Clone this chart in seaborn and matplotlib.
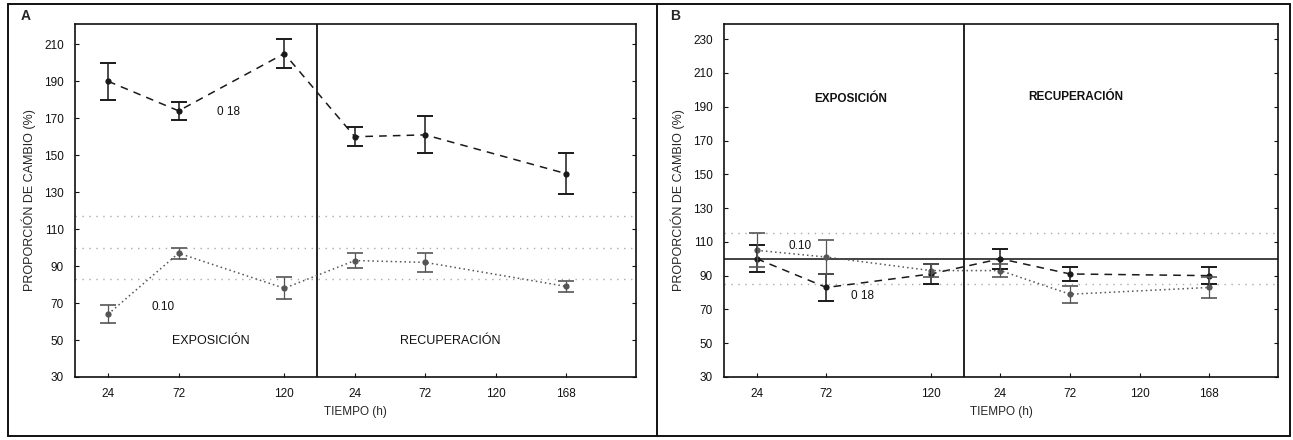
import numpy as np
import pandas as pd
import matplotlib
matplotlib.use("Agg")
import matplotlib.pyplot as plt
import seaborn as sns
from matplotlib.lines import Line2D

# ---------------- data ----------------
hour_labels = ["24", "72", "120", "24", "72", "120", "168"]
tick_pos = [0.5, 1.5, 3.0, 4.0, 5.0, 6.0, 7.0]
# measured points (exposure 24,72,120 ; recovery 24,72,168)
point_pos = [0.5, 1.5, 3.0, 4.0, 5.0, 7.0]

A_018 = [190, 174, 205, 160, 161, 140]
A_018_err = [10, 5, 8, 5, 10, 11]
A_010 = [64, 97, 78, 93, 92, 79]
A_010_err = [5, 3, 6, 4, 5, 3]

B_010 = [105, 101, 93, 93, 79, 83]
B_010_err = [10, 10, 4, 4, 5, 6]
B_018 = [100, 83, 91, 100, 91, 90]
B_018_err = [8, 8, 6, 6, 4, 5]

A_refs = [100, 117, 83]
B_refs = [100, 115, 85]

# ---------------- style ----------------
sns.set_theme(style="white")
plt.rcParams["font.family"] = ["Liberation Sans", "DejaVu Sans"]

fig = plt.figure(figsize=(12.93, 4.4), dpi=100)
axA = fig.add_axes([0.058, 0.1432, 0.4339, 0.8023])
axB = fig.add_axes([0.560, 0.1432, 0.4285, 0.8023])

col18 = "#1a1a1a"
col10 = "#555555"


def make_df(v18, v10):
    return pd.DataFrame({
        "pos": point_pos * 2,
        "val": list(v18) + list(v10),
        "serie": ["0.18"] * len(v18) + ["0.10"] * len(v10),
    })


def draw(ax, v18, e18, v10, e10, refs, ylim, yticks, solid_ref):
    # reference band lines
    for i, r in enumerate(refs):
        if i == 0 and solid_ref:
            ax.axhline(r, color="#333333", lw=1.3, zorder=1)
        else:
            ax.axhline(r, color="#aaaaaa", lw=1.0, ls=(0, (1, 4)), zorder=1)
    df = make_df(v18, v10)
    sns.lineplot(data=df, x="pos", y="val", hue="serie", style="serie",
                 palette={"0.18": col18, "0.10": col10},
                 dashes={"0.18": (5, 4), "0.10": (1, 2)},
                 markers={"0.18": "o", "0.10": "o"}, markersize=4.5,
                 markeredgewidth=0, linewidth=1.1, sort=False,
                 legend=False, ax=ax, zorder=3)
    ax.errorbar(point_pos, v18, yerr=e18, fmt="none", ecolor=col18,
                elinewidth=1.1, capsize=6, capthick=1.4, zorder=4)
    ax.errorbar(point_pos, v10, yerr=e10, fmt="none", ecolor=col10,
                elinewidth=0.9, capsize=6, capthick=1.2, zorder=4)
    ax.axvline(3.47, color="#111111", lw=1.3, zorder=2)
    ax.set_xlim(0.03, 7.99)
    ax.set_ylim(*ylim)
    ax.set_yticks(yticks)
    ax.set_xticks(tick_pos)
    ax.set_xticklabels(hour_labels)
    ax.tick_params(axis="both", labelsize=8.5, colors="#111111",
                   direction="in", length=3, width=0.8,
                   right=True, left=True, bottom=True)
    ax.tick_params(axis="x", pad=8)
    ax.tick_params(axis="y", pad=8)
    for s in ax.spines.values():
        s.set_color("#111111")
        s.set_linewidth(1.2)
    ax.set_xlabel("TIEMPO (h)", fontsize=8.5, labelpad=4)
    ax.set_ylabel("PROPORCIÓN DE CAMBIO (%)", fontsize=9, labelpad=6)


draw(axA, A_018, A_018_err, A_010, A_010_err, A_refs, (30, 221),
     list(range(30, 211, 20)), False)
draw(axB, B_018, B_018_err, B_010, B_010_err, B_refs, (30, 239),
     list(range(30, 231, 20)), True)

# annotations panel A
axA.text(2.05, 172, "0 18", fontsize=8.5, color="#111111")
axA.text(1.12, 66, "0.10", fontsize=8.5, color="#111111")
axA.text(1.95, 48, "EXPOSICIÓN", fontsize=9, ha="center", color="#111111")
axA.text(5.35, 48, "RECUPERACIÓN", fontsize=9, ha="center", color="#111111")

# annotations panel B
axB.text(0.95, 106, "0.10", fontsize=8.5, color="#111111")
axB.text(1.85, 76, "0 18", fontsize=8.5, color="#111111")
axB.text(1.85, 193, "EXPOSICIÓN", fontsize=8.5, ha="center",
         fontweight="bold", color="#111111")
axB.text(5.08, 194, "RECUPERACIÓN", fontsize=8.5, ha="center",
         fontweight="bold", color="#111111")

# panel letters
fig.text(21 / 1293, 1 - 20 / 440, "A", fontsize=10, fontweight="bold")
fig.text(670 / 1293, 1 - 20 / 440, "B", fontsize=10, fontweight="bold")

# outer frame and panel divider
fx0, fx1 = 8 / 1293, 1290 / 1293
fy0, fy1 = 1 - 436 / 440, 1 - 4 / 440
for xs, ys in [([fx0, fx1], [fy0, fy0]), ([fx0, fx1], [fy1, fy1]),
               ([fx0, fx0], [fy0, fy1]), ([fx1, fx1], [fy0, fy1]),
               ([657 / 1293, 657 / 1293], [fy0, fy1])]:
    fig.add_artist(Line2D(xs, ys, color="#111111", lw=1.4,
                          transform=fig.transFigure))

fig.savefig("out.png", dpi=100)
